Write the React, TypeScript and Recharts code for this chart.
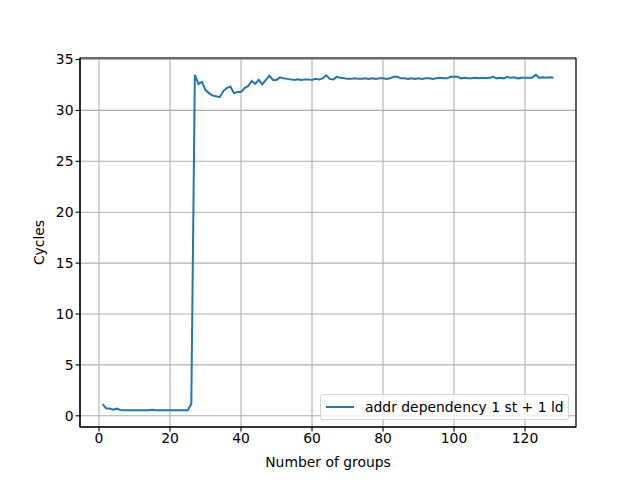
import {
  CartesianGrid,
  Line,
  LineChart,
  ReferenceArea,
  XAxis,
  YAxis,
} from "recharts";

// cycles measured for 1..128 groups
const cycles = [
  1.15, 0.75, 0.72, 0.6, 0.7, 0.57, 0.55, 0.55, 0.55, 0.55,
  0.55, 0.55, 0.55, 0.55, 0.6, 0.55, 0.55, 0.55, 0.55, 0.55,
  0.55, 0.55, 0.55, 0.55, 0.55, 1.15, 33.5, 32.6, 32.8, 32.0,
  31.7, 31.45, 31.4, 31.3, 31.9, 32.2, 32.35, 31.7, 31.8, 31.8,
  32.2, 32.4, 32.9, 32.6, 33.0, 32.55, 33.0, 33.4, 33.0, 33.0,
  33.25, 33.15, 33.1, 33.05, 33.0, 33.05, 33.0, 33.05, 33.05, 33.0,
  33.1, 33.05, 33.15, 33.45, 33.1, 33.05, 33.3, 33.2, 33.15, 33.1,
  33.1, 33.15, 33.1, 33.1, 33.15, 33.1, 33.15, 33.1, 33.15, 33.15,
  33.1, 33.15, 33.3, 33.3, 33.15, 33.15, 33.1, 33.15, 33.1, 33.15,
  33.1, 33.15, 33.15, 33.1, 33.15, 33.2, 33.15, 33.15, 33.3, 33.3,
  33.3, 33.15, 33.2, 33.15, 33.15, 33.2, 33.15, 33.2, 33.15, 33.2,
  33.3, 33.15, 33.2, 33.15, 33.3, 33.2, 33.25, 33.15, 33.2, 33.2,
  33.2, 33.2, 33.5, 33.2, 33.25, 33.2, 33.25, 33.2,
];
const groups = cycles.map((_, i) => i + 1);

const xTicks = [0, 20, 40, 60, 80, 100, 120];
const yTicks = [0, 5, 10, 15, 20, 25, 30, 35];
const xDomain: [number, number] = [-5.35, 134.35];
const yDomain: [number, number] = [-1.1, 35.15];

const seriesName = "addr dependency 1 st + 1 ld";
const BLUE = "#1f77b4";
const FONT = "'DejaVu Sans', sans-serif";

const data = groups.map((g, i) => ({ groups: g, cycles: cycles[i] }));

function LegendBox() {
  return (
    <div
      style={{
        position: "absolute",
        left: 320,
        top: 394,
        boxSizing: "border-box",
        width: 249,
        height: 26,
        border: "1px solid #d6d6d6",
        borderRadius: 3,
        background: "rgba(255,255,255,0.8)",
        display: "flex",
        alignItems: "center",
        fontFamily: FONT,
        fontSize: 13.9,
        color: "#000",
      }}
    >
      <span
        style={{
          display: "inline-block",
          width: 28,
          height: 2,
          background: BLUE,
          marginLeft: 5,
          marginRight: 11,
        }}
      />
      <span>{seriesName}</span>
    </div>
  );
}

export default function App() {
  return (
    <div style={{ position: "absolute", left: 0, top: 0, width: 640, height: 480, background: "#fff" }}>
      <LineChart
        width={640}
        height={480}
        data={data}
        margin={{ top: 58, right: 64, bottom: 0, left: 30 }}
      >
        <CartesianGrid stroke="#b0b0b0" strokeWidth={1.1} />
        <XAxis
          dataKey="groups"
          type="number"
          domain={xDomain}
          ticks={xTicks}
          allowDataOverflow
          height={53}
          tickSize={4.5}
          tickMargin={2}
          tick={{ fill: "#000", fontSize: 13.9, fontFamily: FONT }}
          axisLine={{ stroke: "#000", strokeWidth: 1.1 }}
          tickLine={{ stroke: "#000", strokeWidth: 1.1 }}
          label={{
            value: "Number of groups",
            position: "insideBottom",
            offset: 13,
            style: { fill: "#000", fontSize: 13.9, fontFamily: FONT },
          }}
        />
        <YAxis
          type="number"
          domain={yDomain}
          ticks={yTicks}
          allowDataOverflow
          width={50}
          tickSize={4.5}
          tickMargin={2}
          tick={{ fill: "#000", fontSize: 13.9, fontFamily: FONT }}
          axisLine={{ stroke: "#000", strokeWidth: 1.1 }}
          tickLine={{ stroke: "#000", strokeWidth: 1.1 }}
          label={{
            value: "Cycles",
            angle: -90,
            position: "insideLeft",
            offset: 9,
            style: { textAnchor: "middle", fill: "#000", fontSize: 13.9, fontFamily: FONT },
          }}
        />
        <ReferenceArea
          x1={xDomain[0]}
          x2={xDomain[1]}
          y1={yDomain[0]}
          y2={yDomain[1]}
          fill="none"
          stroke="#000"
          strokeWidth={1.1}
          ifOverflow="visible"
        />
        <Line
          type="linear"
          dataKey="cycles"
          name={seriesName}
          stroke={BLUE}
          strokeWidth={2}
          dot={false}
          isAnimationActive={false}
        />
      </LineChart>
      <LegendBox />
    </div>
  );
}
